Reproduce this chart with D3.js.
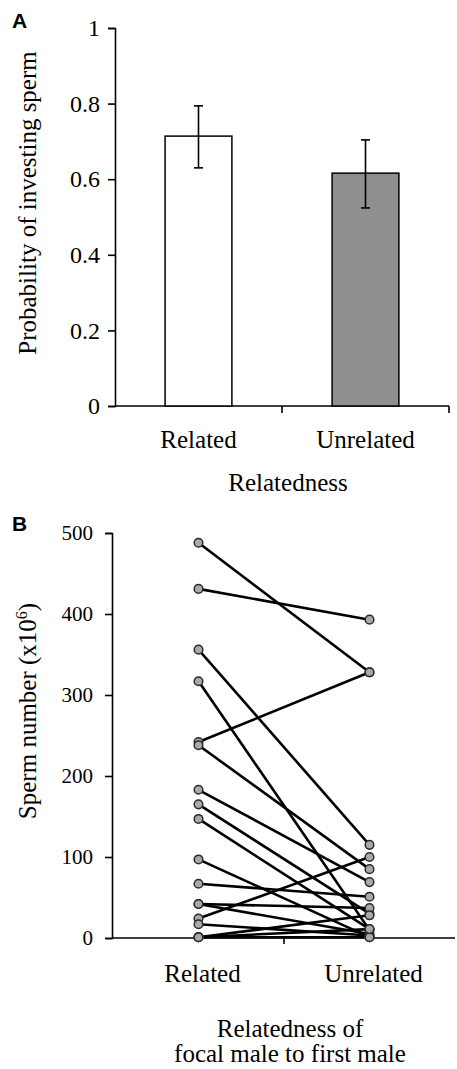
<!DOCTYPE html>
<html>
<head>
<meta charset="utf-8">
<script src="https://cdn.jsdelivr.net/npm/d3@7"></script>
<style>
  body { margin: 0; background: #fff; }
  text { font-family: "Liberation Serif", "Times New Roman", serif; fill: #000; }
</style>
</head>
<body>
<script>
// Panel A: probability of investing sperm
let groups = ['Related', 'Unrelated']
let probMean = [0.714, 0.616]
let probLow = [0.630, 0.524]
let probHigh = [0.794, 0.704]
let probTicks = [0, 0.2, 0.4, 0.6, 0.8, 1]

// Panel B: paired sperm numbers (x10^6), one pair per focal male
let spermRelated = [488, 431, 356, 317, 242, 238, 183, 165, 147, 97, 67, 42, 42, 24, 17, 1, 1, 1]
let spermUnrelated = [328, 393, 115, 10, 328, 85, 69, 30, 11, 1, 51, 37, 5, 100, 3, 28, 1, 11]
let spermTicks = [0, 100, 200, 300, 400, 500]

let serif = '"Liberation Serif", "Times New Roman", serif'

let svg = d3.select('body').append('svg')
  .attr('width', 457)
  .attr('height', 1069)

/* ---------- panel A ---------- */
let gA = svg.append('g')

let xA = d3.scaleBand().domain(groups).range([115, 449]).paddingInner(0.6).paddingOuter(0.3)
let yA = d3.scaleLinear().domain([0, 1]).range([406, 28])

let axisYA = gA.append('g')
  .attr('transform', 'translate(115,0)')
  .call(d3.axisLeft(yA).tickValues(probTicks).tickSize(7).tickPadding(8)
    .tickFormat(d => d === 0 || d === 1 ? d : d3.format('.1f')(d)))
axisYA.attr('font-family', serif)
axisYA.select('.domain').attr('stroke-width', 1.6)
axisYA.selectAll('.tick line').attr('stroke-width', 1.6)
axisYA.selectAll('text').style('font-family', serif).style('font-size', '24px').attr('fill', '#000')

// x axis with ticks at the group boundaries
let boundScale = d3.scaleLinear().domain([0, 2]).range([115, 449])
gA.append('line')
  .attr('x1', 115).attr('x2', 449)
  .attr('y1', 406).attr('y2', 406)
  .attr('stroke', '#000').attr('stroke-width', 1.6)
gA.selectAll('.btick').data([1, 2]).enter().append('line')
  .attr('x1', d => boundScale(d)).attr('x2', d => boundScale(d))
  .attr('y1', 406).attr('y2', 413)
  .attr('stroke', '#000').attr('stroke-width', 1.6)

gA.selectAll('.bar').data(groups).enter().append('rect')
  .attr('x', d => xA(d))
  .attr('width', xA.bandwidth())
  .attr('y', (d, i) => yA(probMean[i]))
  .attr('height', (d, i) => yA(0) - yA(probMean[i]))
  .attr('fill', (d, i) => i === 0 ? '#fff' : '#8f8f8f')
  .attr('stroke', '#000')
  .attr('stroke-width', 1.5)

// error bars
groups.forEach((g, i) => {
  let cx = xA(g) + xA.bandwidth() / 2
  let eb = gA.append('g').attr('stroke', '#000').attr('stroke-width', 1.6)
  eb.append('line').attr('x1', cx).attr('x2', cx).attr('y1', yA(probLow[i])).attr('y2', yA(probHigh[i]))
  eb.append('line').attr('x1', cx - 4.5).attr('x2', cx + 4.5).attr('y1', yA(probLow[i])).attr('y2', yA(probLow[i]))
  eb.append('line').attr('x1', cx - 4.5).attr('x2', cx + 4.5).attr('y1', yA(probHigh[i])).attr('y2', yA(probHigh[i]))
})

gA.selectAll('.catA').data(groups).enter().append('text')
  .attr('x', d => xA(d) + xA.bandwidth() / 2)
  .attr('y', 448)
  .attr('text-anchor', 'middle')
  .style('font-size', '25px')
  .text(d => d)

gA.append('text')
  .attr('x', 288).attr('y', 491)
  .attr('text-anchor', 'middle')
  .style('font-size', '25px')
  .text('Relatedness')

gA.append('text')
  .attr('transform', 'translate(36,203) rotate(-90)')
  .attr('text-anchor', 'middle')
  .style('font-size', '25px')
  .text('Probability of investing sperm')

gA.append('text')
  .attr('x', 12).attr('y', 28)
  .style('font-family', '"Liberation Sans", Arial, sans-serif')
  .style('font-weight', 'bold')
  .style('font-size', '21px')
  .text('A')

/* ---------- panel B ---------- */
let gB = svg.append('g')

let xB = d3.scalePoint().domain(groups).range([113, 455]).padding(0.5)
let yB = d3.scaleLinear().domain([0, 500]).range([938, 533])

let axisYB = gB.append('g')
  .attr('transform', 'translate(112,0)')
  .call(d3.axisLeft(yB).tickValues(spermTicks).tickSize(7).tickPadding(12))
axisYB.attr('font-family', serif)
axisYB.select('.domain').attr('stroke-width', 1.6)
axisYB.selectAll('.tick line').attr('stroke-width', 1.6)
axisYB.selectAll('text').style('font-family', serif).style('font-size', '21px').attr('fill', '#000')

gB.append('line')
  .attr('x1', 112).attr('x2', 455)
  .attr('y1', 938).attr('y2', 938)
  .attr('stroke', '#000').attr('stroke-width', 1.6)
gB.append('line')
  .attr('x1', (xB('Related') + xB('Unrelated')) / 2).attr('x2', (xB('Related') + xB('Unrelated')) / 2)
  .attr('y1', 938).attr('y2', 944)
  .attr('stroke', '#000').attr('stroke-width', 1.6)

let pairs = spermRelated.map((v, i) => ({ rel: v, unrel: spermUnrelated[i] }))

gB.selectAll('.pair').data(pairs).enter().append('line')
  .attr('x1', xB('Related')).attr('x2', xB('Unrelated'))
  .attr('y1', d => yB(d.rel)).attr('y2', d => yB(d.unrel))
  .attr('stroke', '#000')
  .attr('stroke-width', 2.6)

let pts = []
pairs.forEach(d => {
  pts.push({ x: xB('Related'), v: d.rel })
  pts.push({ x: xB('Unrelated'), v: d.unrel })
})
gB.selectAll('.pt').data(pts).enter().append('circle')
  .attr('cx', d => d.x)
  .attr('cy', d => yB(d.v))
  .attr('r', 4.3)
  .attr('fill', '#a9a9a9')
  .attr('stroke', '#2a2a2a')
  .attr('stroke-width', 1.5)

gB.selectAll('.catB').data(groups).enter().append('text')
  .attr('x', d => xB(d) + 4)
  .attr('y', 982)
  .attr('text-anchor', 'middle')
  .style('font-size', '25px')
  .text(d => d)

gB.append('text')
  .attr('x', 290).attr('y', 1037)
  .attr('text-anchor', 'middle')
  .style('font-size', '25px')
  .text('Relatedness of')
gB.append('text')
  .attr('x', 290).attr('y', 1062)
  .attr('text-anchor', 'middle')
  .style('font-size', '25px')
  .text('focal male to first male')

let yTitleB = gB.append('text')
  .attr('transform', 'translate(36,711) rotate(-90)')
  .attr('text-anchor', 'middle')
  .style('font-size', '25px')
yTitleB.append('tspan').text('Sperm number (x10')
yTitleB.append('tspan').attr('dy', -9).style('font-size', '16px').text('6')
yTitleB.append('tspan').attr('dy', 9).text(')')

gB.append('text')
  .attr('x', 12).attr('y', 531)
  .style('font-family', '"Liberation Sans", Arial, sans-serif')
  .style('font-weight', 'bold')
  .style('font-size', '21px')
  .text('B')
</script>
</body>
</html>
